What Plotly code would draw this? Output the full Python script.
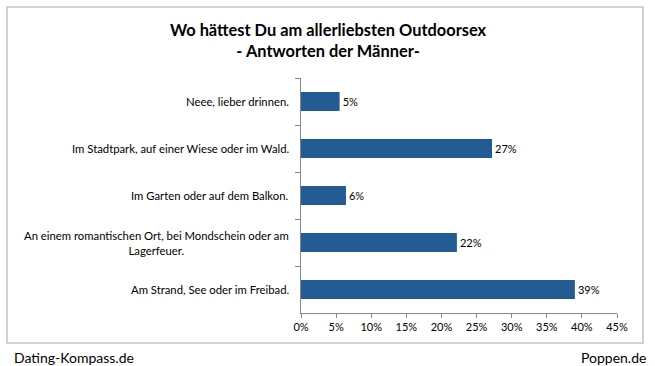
import plotly.graph_objects as go

categories = [
    "Neee, lieber drinnen.",
    "Im Stadtpark, auf einer Wiese oder im Wald.",
    "Im Garten oder auf dem Balkon.",
    "An einem romantischen Ort, bei Mondschein oder am<br>Lagerfeuer.",
    "Am Strand, See oder im Freibad.",
]
values = [5.5, 27.2, 6.4, 22.2, 39.0]
value_labels = ["5%", "27%", "6%", "22%", "39%"]
tick_vals = [0, 5, 10, 15, 20, 25, 30, 35, 40, 45]
tick_text = ["0%", "5%", "10%", "15%", "20%", "25%", "30%", "35%", "40%", "45%"]

FONT = "Lato"
W, H = 655, 366
L, R, T, B = 301, 38, 78, 53

fig = go.Figure()
fig.add_trace(go.Bar(
    x=values, y=categories, orientation="h",
    marker=dict(color="#235b94", line=dict(width=0)),
    text=value_labels, textposition="outside",
    textfont=dict(family=FONT, size=11, color="#000000"),
    cliponaxis=False, hoverinfo="skip",
))

for c in categories:
    fig.add_annotation(
        x=0, xref="paper", y=c, yref="y", xshift=-10,
        text=c, showarrow=False, xanchor="right", yanchor="middle",
        align="center", font=dict(family=FONT, size=11.3, color="#000000"),
    )

pw = W - L - R
ph = H - T - B
def px_x(p):
    return (p - L) / pw
def px_y(p):
    return (H - B - p) / ph

fig.add_shape(type="rect", xref="paper", yref="paper",
              x0=px_x(7), x1=px_x(643), y0=px_y(343), y1=px_y(7),
              line=dict(color="#c4c4c4", width=1.5), fillcolor="rgba(0,0,0,0)", layer="below")

fig.add_annotation(x=px_x(328), xref="paper", y=px_y(40), yref="paper",
                   text="<b>Wo hättest Du am allerliebsten Outdoorsex<br>- Antworten der Männer-</b>",
                   showarrow=False, xanchor="center", yanchor="middle", align="center",
                   font=dict(family=FONT, size=16.4, color="#000000"))

fig.add_annotation(x=px_x(12), xref="paper", y=px_y(357), yref="paper",
                   text="Dating-Kompass.de", showarrow=False, xanchor="left", yanchor="middle",
                   font=dict(family=FONT, size=14, color="#000000"))
fig.add_annotation(x=px_x(648), xref="paper", y=px_y(357), yref="paper",
                   text="Poppen.de", showarrow=False, xanchor="right", yanchor="middle",
                   font=dict(family=FONT, size=14, color="#000000"))

fig.update_layout(
    width=W, height=H, margin=dict(l=L, r=R, t=T, b=B, autoexpand=False),
    paper_bgcolor="white", plot_bgcolor="white", showlegend=False,
    bargap=0.6,
    xaxis=dict(range=[0, 45], tickvals=tick_vals, ticktext=tick_text,
               showgrid=False, zeroline=False, showline=True, linecolor="#868686", linewidth=1,
               ticks="outside", ticklen=4, tickcolor="#868686",
               tickfont=dict(family=FONT, size=11, color="#000000"), fixedrange=True),
    yaxis=dict(autorange="reversed", showticklabels=False, showgrid=False, zeroline=False,
               showline=True, linecolor="#868686", linewidth=1,
               ticks="outside", ticklen=5, tickcolor="#868686", tickson="boundaries",
               fixedrange=True),
)

fig.write_html("out.html", config={"displayModeBar": False},
               post_script="document.body.style.margin='0';document.body.style.overflow='hidden';")
